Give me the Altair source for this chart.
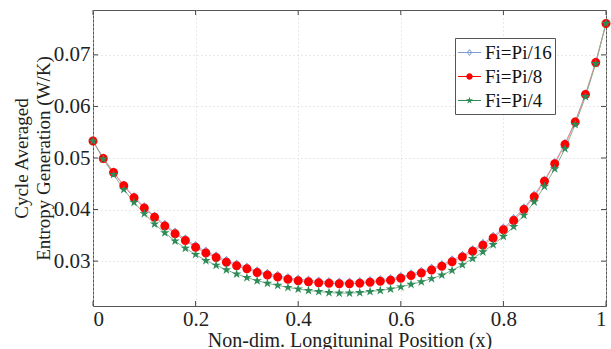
import altair as alt
import pandas as pd

# ---------------- data ----------------
x_pos = [0.00, 0.02, 0.04, 0.06, 0.08, 0.10, 0.12, 0.14, 0.16, 0.18,
         0.20, 0.22, 0.24, 0.26, 0.28, 0.30, 0.32, 0.34, 0.36, 0.38,
         0.40, 0.42, 0.44, 0.46, 0.48, 0.50, 0.52, 0.54, 0.56, 0.58,
         0.60, 0.62, 0.64, 0.66, 0.68, 0.70, 0.72, 0.74, 0.76, 0.78,
         0.80, 0.82, 0.84, 0.86, 0.88, 0.90, 0.92, 0.94, 0.96, 0.98, 1.00]

fi_pi16 = [0.0533, 0.0500, 0.0473, 0.0447, 0.0425, 0.0405, 0.0387, 0.0371, 0.0356, 0.0343,
           0.0330, 0.0319, 0.0310, 0.0301, 0.0294, 0.0288, 0.0281, 0.0276, 0.0272, 0.0268,
           0.0265, 0.0263, 0.0261, 0.0260, 0.0259, 0.0259, 0.0260, 0.0262, 0.0264, 0.0266,
           0.0270, 0.0275, 0.0280, 0.0286, 0.0293, 0.0302, 0.0311, 0.0322, 0.0334, 0.0348,
           0.0364, 0.0382, 0.0403, 0.0428, 0.0457, 0.0491, 0.0528, 0.0571, 0.0624, 0.0686, 0.0761]

fi_pi8 = [0.0533, 0.0499, 0.0472, 0.0446, 0.0423, 0.0403, 0.0385, 0.0368, 0.0353, 0.0340,
          0.0327, 0.0316, 0.0307, 0.0298, 0.0291, 0.0285, 0.0278, 0.0273, 0.0269, 0.0265,
          0.0262, 0.0260, 0.0258, 0.0257, 0.0256, 0.0256, 0.0257, 0.0259, 0.0261, 0.0263,
          0.0267, 0.0272, 0.0277, 0.0283, 0.0290, 0.0299, 0.0308, 0.0319, 0.0331, 0.0345,
          0.0361, 0.0379, 0.0400, 0.0425, 0.0455, 0.0489, 0.0526, 0.0570, 0.0623, 0.0685, 0.0761]

fi_pi4 = [0.0533, 0.0498, 0.0468, 0.0439, 0.0414, 0.0392, 0.0372, 0.0355, 0.0339, 0.0325,
          0.0313, 0.0301, 0.0292, 0.0283, 0.0275, 0.0268, 0.0262, 0.0257, 0.0253, 0.0249,
          0.0246, 0.0243, 0.0241, 0.0239, 0.0238, 0.0238, 0.0239, 0.0241, 0.0243, 0.0246,
          0.0250, 0.0255, 0.0260, 0.0266, 0.0273, 0.0282, 0.0293, 0.0305, 0.0318, 0.0332,
          0.0348, 0.0367, 0.0389, 0.0415, 0.0445, 0.0479, 0.0518, 0.0565, 0.0619, 0.0683, 0.0761]

series_names = ["Fi=Pi/16", "Fi=Pi/8", "Fi=Pi/4"]
x_ticks = [0, 0.2, 0.4, 0.6, 0.8, 1]
y_ticks = [0.03, 0.04, 0.05, 0.06, 0.07]

# ---------------- styling ----------------
line_colors = ["#9fb4e0", "#ff8080", "#80b494"]
marker_colors = ["#7f9bd3", "#ff0000", "#2e8b57"]

diamond_ring = ("M0,-0.95L0.8,0L0,0.95L-0.8,0Z"
                "M0,-0.62L-0.5,0L0,0.62L0.5,0Z")
circle_path = "M0.9,0A0.9,0.9,0,1,1,-0.9,0A0.9,0.9,0,1,1,0.9,0Z"
star_path = ("M0,-1L0.223,-0.307L0.951,-0.309L0.361,0.117L0.588,0.809"
             "L0,0.38L-0.588,0.809L-0.361,0.117L-0.951,-0.309L-0.223,-0.307Z")
marker_paths = [diamond_ring, circle_path, star_path]

# legend symbols: short line with a marker in the middle
leg_line = "M-1,-0.045L1,-0.045L1,0.045L-1,0.045Z"
leg_paths = [
    leg_line + "M0,-0.3L0.24,0L0,0.3L-0.24,0Z" + "M0,-0.19L-0.14,0L0,0.19L0.14,0Z",
    leg_line + "M0.28,0A0.28,0.28,0,1,1,-0.28,0A0.28,0.28,0,1,1,0.28,0Z",
    leg_line + ("M0,-0.32L0.071,-0.098L0.304,-0.099L0.116,0.037L0.188,0.259"
                "L0,0.122L-0.188,0.259L-0.116,0.037L-0.304,-0.099L-0.071,-0.098Z"),
]

rows = []
for name, vals in zip(series_names, [fi_pi16, fi_pi8, fi_pi4]):
    for xv, yv in zip(x_pos, vals):
        rows.append({"x": xv, "y": yv, "series": name})
df = pd.DataFrame(rows)

FONT = "Liberation Serif"
X_TITLE = "Non-dim. Longituninal Position (x)"
Y_TITLE = ["Cycle Averaged", "Entropy Generation (W/K)"]

xscale = alt.Scale(domain=[0, 1], nice=False, zero=False)
yscale = alt.Scale(domain=[0.0213, 0.0787], nice=False, zero=False)

x_axis = alt.Axis(values=x_ticks, format="~g", labelPadding=2, titlePadding=1,
                  labelFont=FONT, labelFontSize=21, labelColor="#222",
                  titleFont=FONT, titleFontSize=20, titleFontWeight="normal",
                  titleColor="#222")
y_axis = alt.Axis(values=y_ticks, format=".2f", labelPadding=3, titlePadding=0,
                  titleLineHeight=22,
                  labelFont=FONT, labelFontSize=21, labelColor="#222",
                  titleFont=FONT, titleFontSize=19, titleFontWeight="normal",
                  titleColor="#222")

x_enc = alt.X("x:Q", scale=xscale, title=X_TITLE, axis=x_axis)
y_enc = alt.Y("y:Q", scale=yscale, title=Y_TITLE, axis=y_axis)

lines = alt.Chart(df).mark_line(strokeWidth=1).encode(
    x=x_enc, y=y_enc,
    stroke=alt.Stroke("series:N", scale=alt.Scale(domain=series_names, range=line_colors),
                      legend=None),
)

points = alt.Chart(df).mark_point(filled=True, opacity=1, strokeWidth=0, size=100).encode(
    x=x_enc, y=y_enc,
    shape=alt.Shape("series:N", scale=alt.Scale(domain=series_names, range=marker_paths),
                    legend=None),
    fill=alt.Fill("series:N", scale=alt.Scale(domain=series_names, range=marker_colors),
                  legend=None),
)

legend = alt.Legend(title=None, orient="none", legendX=362, legendY=28,
                    labelFont=FONT, labelFontSize=19, labelColor="#111",
                    symbolSize=529, symbolOpacity=1, symbolStrokeWidth=0,
                    padding=3, rowPadding=2, labelOffset=4,
                    strokeColor="#555", fillColor="white")

legend_layer = alt.Chart(df).mark_point(filled=True, opacity=0, strokeWidth=0, size=1).encode(
    x=x_enc, y=y_enc,
    shape=alt.Shape("series:N", scale=alt.Scale(domain=series_names, range=leg_paths),
                    legend=legend),
    fill=alt.Fill("series:N", scale=alt.Scale(domain=series_names, range=marker_colors),
                  legend=legend),
)

xt = pd.DataFrame({"x": x_ticks})
yt = pd.DataFrame({"y": y_ticks})
TICK = "#444"
xt_enc = alt.X("x:Q", scale=xscale, title=X_TITLE, axis=x_axis)
yt_enc = alt.Y("y:Q", scale=yscale, title=Y_TITLE, axis=y_axis)
tick_bottom = alt.Chart(xt).mark_rule(color=TICK, strokeWidth=1).encode(
    x=xt_enc, y=alt.value(291), y2=alt.value(296))
tick_top = alt.Chart(xt).mark_rule(color=TICK, strokeWidth=1).encode(
    x=xt_enc, y=alt.value(0), y2=alt.value(5))
tick_left = alt.Chart(yt).mark_rule(color=TICK, strokeWidth=1).encode(
    y=yt_enc, x=alt.value(0), x2=alt.value(5))
tick_right = alt.Chart(yt).mark_rule(color=TICK, strokeWidth=1).encode(
    y=yt_enc, x=alt.value(508), x2=alt.value(513))

chart = alt.layer(
    tick_bottom, tick_top, tick_left, tick_right, lines, points, legend_layer
).resolve_scale(
    shape="independent", fill="independent"
).properties(
    width=513, height=296,
    autosize=alt.AutoSizeParams(type="none"),
    padding={"left": 93, "top": 10, "right": 5, "bottom": 43},
    background="white",
).configure_view(
    stroke="#555", strokeWidth=1
).configure_axis(
    labelFont=FONT, labelFontSize=21, labelColor="#222",
    titleFont=FONT, titleFontSize=19, titleFontWeight="normal", titleColor="#222",
    ticks=False, domain=False,
    grid=True, gridColor="#d2d2d2", gridDash=[1, 3], gridWidth=1,
)

chart.save("out.html", embed_options={"renderer": "svg", "actions": False})
